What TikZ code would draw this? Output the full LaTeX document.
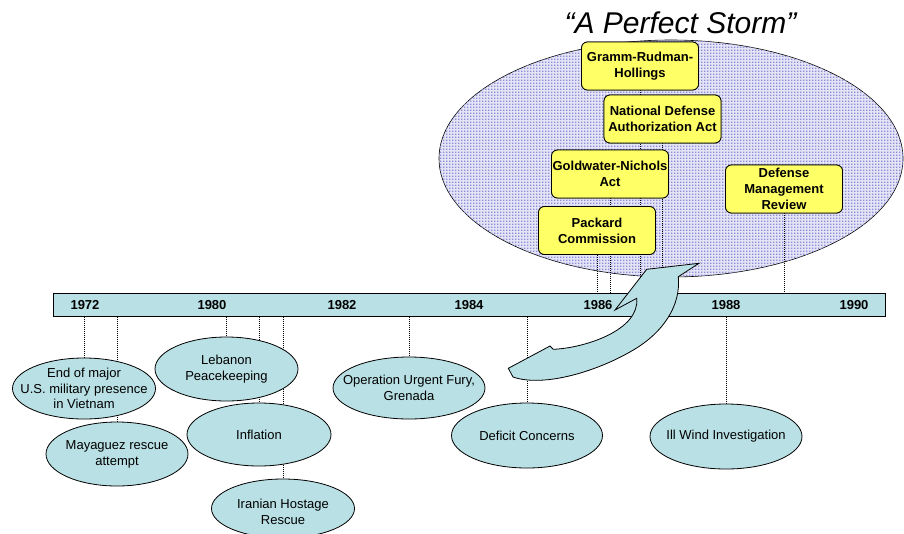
\documentclass[tikz,border=0pt]{standalone}
\usepackage{fontspec}
\setmainfont{Liberation Sans}
\usetikzlibrary{shapes.geometric,patterns}
\pgfdeclarepatternformonly{stormdots}{\pgfqpoint{-1pt}{-1pt}}{\pgfqpoint{2pt}{2pt}}{\pgfqpoint{3pt}{3pt}}%
  {\pgfpathrectangle{\pgfqpoint{-0.75pt}{-0.75pt}}{\pgfqpoint{1.5pt}{1.5pt}}\pgfusepath{fill}}
\definecolor{tl}{RGB}{185,224,228}
\definecolor{yl}{RGB}{255,255,102}
\definecolor{lav}{RGB}{228,228,246}
\definecolor{dotc}{RGB}{140,140,215}
\tikzset{
  bubble/.style={ellipse,draw=black,fill=tl,line width=0.8pt,inner sep=0pt},
  lbl/.style={align=center,font=\fontsize{13}{15.8}\selectfont},
  act/.style={rectangle,rounded corners=6pt,draw=black,fill=yl,line width=0.8pt,
    minimum width=117pt,minimum height=48pt,inner sep=0pt,align=center,
    font=\bfseries\fontsize{13}{16.2}\selectfont},
  yr/.style={font=\bfseries\fontsize{13}{15}\selectfont,inner sep=0pt},
  tick/.style={line width=0.5pt,dash pattern=on 1pt off 1pt},
  barbox/.style={rectangle,draw=black,fill=tl,line width=1pt,inner sep=0pt},
}
\begin{document}
\begin{tikzpicture}[x=1pt,y=-1pt]
\useasboundingbox (0,0) rectangle (904,533);
% storm ellipse
\node[ellipse,draw=black,line width=0.6pt,fill=lav,minimum width=464pt,minimum height=237pt,inner sep=0pt,
  postaction={pattern=stormdots,pattern color=dotc}] (storm) at (671,158.5) {};
\node[font=\itshape\fontsize{30}{36}\selectfont,anchor=base] (title) at (680.5,33.5) {“A Perfect Storm”};
% timeline bar
\node[barbox,minimum width=832pt,minimum height=23pt] (bar) at (469,304.5) {};
% acts
\node[act] (gramm) at (640,66) {Gramm-Rudman-\\Hollings};
\node[act] (ndaa) at (662.5,119) {National Defense\\Authorization Act};
\node[act] (gold) at (610,174) {Goldwater-Nichols\\Act};
\node[act] (pack) at (597,230.5) {Packard\\Commission};
\node[act] (dmr) at (784,189) {Defense\\Management\\Review};
% lines from acts to bar
\draw[tick] (gramm.south) -- (gramm.south |- bar.north);
\draw[tick] (ndaa.south) -- (ndaa.south |- bar.north);
\draw[tick] (gold.south) -- (gold.south |- bar.north);
\draw[tick] (pack.south) -- (pack.south |- bar.north);
\draw[tick] (dmr.south) -- (dmr.south |- bar.north);
% redraw boxes over the lines
\node[act] at (gramm) {Gramm-Rudman-\\Hollings};
\node[act] at (ndaa) {National Defense\\Authorization Act};
\node[act] at (gold) {Goldwater-Nichols\\Act};
\node[act] at (pack) {Packard\\Commission};
\node[act] at (dmr) {Defense\\Management\\Review};
% year labels
\node[yr] (y72) at (85,305.5) {1972};
\node[yr] (y80) at (212,305.5) {1980};
\node[yr] (y82) at (342,305.5) {1982};
\node[yr] (y84) at (469,305.5) {1984};
\node[yr] (y86) at (598,305.5) {1986};
\node[yr] (y88) at (726,305.5) {1988};
\node[yr] (y90) at (854,305.5) {1990};
% event centres and lines
\coordinate (cviet) at (84,388.5);
\coordinate (cmaya) at (117,454);
\coordinate (cleb) at (226.5,369);
\coordinate (cinf) at (259,434.5);
\coordinate (ciran) at (283,508.5);
\coordinate (cgren) at (409,388);
\coordinate (cdef) at (527,435.5);
\coordinate (cwind) at (726,436.5);
\draw[tick] (cviet |- bar.south) -- ([yshift=30.5pt]cviet);
\draw[tick] (cmaya |- bar.south) -- ([yshift=32pt]cmaya);
\draw[tick] (cleb |- bar.south) -- ([yshift=32pt]cleb);
\draw[tick] (cinf |- bar.south) -- ([yshift=31.5pt]cinf);
\draw[tick] (ciran |- bar.south) -- ([yshift=29.5pt]ciran);
\draw[tick] (cgren |- bar.south) -- ([yshift=31pt]cgren);
\draw[tick] (cdef |- bar.south) -- ([yshift=32.5pt]cdef);
\draw[tick] (cwind |- bar.south) -- ([yshift=32.5pt]cwind);
% events
\node[bubble,minimum width=143pt,minimum height=61pt] (viet) at (cviet) {};
\node[lbl] at (viet) {End of major\\U.S. military presence\\in Vietnam};
\node[bubble,minimum width=142pt,minimum height=64pt] (maya) at (cmaya) {};
\node[lbl] at (maya) {Mayaguez rescue\\attempt};
\node[bubble,minimum width=143pt,minimum height=64pt] (leb) at (cleb) {};
\node[lbl] at (leb) {Lebanon\\Peacekeeping};
\node[bubble,minimum width=144pt,minimum height=63pt] (inf) at (cinf) {};
\node[lbl] at (inf) {Inflation};
\node[bubble,minimum width=143pt,minimum height=59pt] (iran) at (ciran) {};
\node[lbl] at ([yshift=-3pt]iran) {Iranian Hostage\\Rescue};
\node[bubble,minimum width=152pt,minimum height=62pt] (gren) at (cgren) {};
\node[lbl] at (gren) {Operation Urgent Fury,\\Grenada};
\node[bubble,minimum width=151pt,minimum height=65pt] (def) at (cdef) {};
\node[lbl] at (def) {Deficit Concerns};
\node[bubble,minimum width=152pt,minimum height=65pt] (wind) at (cwind) {};
\node[lbl] at (wind) {Ill Wind Investigation};
% curved arrow
\draw[fill=tl,line width=0.8pt,line join=miter]
  (615,310) -- (646.7,269.3) -- (699,263.3) -- (678.3,276.7)
  .. controls (681,305) and (664,332) .. (633.3,350)
  .. controls (600,370) and (545,388) .. (513,377)
  -- (508.3,368.3) -- (550,346) -- (553.3,349.3)
  .. controls (585,348) and (640,330) .. (636.7,298.3) -- cycle;
\end{tikzpicture}
\end{document}
